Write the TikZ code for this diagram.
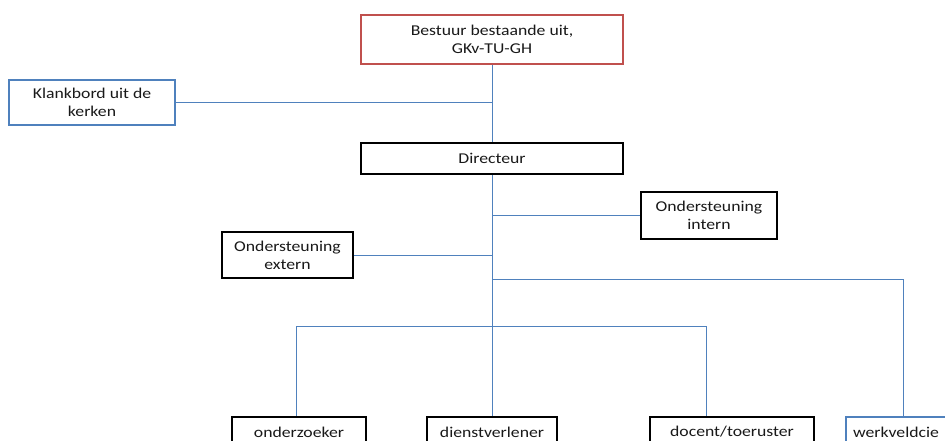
\documentclass[tikz,border=0pt]{standalone}
\usepackage{fontspec}
\setmainfont{Carlito}[FakeStretch=1.18]
\definecolor{redbox}{RGB}{192,80,77}
\definecolor{bluebox}{RGB}{79,129,189}
\definecolor{linecol}{RGB}{79,129,189}
\begin{document}
\begin{tikzpicture}[x=1pt,y=-1pt,
  box/.style={draw, rectangle, fill=white, align=center, inner sep=0pt,
    font=\fontsize{15}{17.7}\selectfont, text=black!90},
  blackbox/.style={box, draw=black, line width=2.6pt},
  redbx/.style={box, draw=redbox, line width=2.2pt},
  bluebx/.style={box, draw=bluebox, line width=2.2pt},
  conn/.style={draw=linecol, line width=1pt}]
\useasboundingbox (0,0) rectangle (945,441);
\clip (0,0) rectangle (945,441);
% nodes
\node[redbx, minimum width=262, minimum height=49] (top) at (492,39.5) {Bestuur bestaande uit,\\GKv-TU-GH};
\node[bluebx, minimum width=166, minimum height=45] (klank) at (92,102.5) {Klankbord uit de\\kerken};
\node[blackbox, minimum width=262, minimum height=31] (dir) at (492,158.5) {Directeur};
\node[blackbox, minimum width=136, minimum height=47] (intern) at (709,215.5) {Ondersteuning\\intern};
\node[blackbox, minimum width=131, minimum height=46] (extern) at (287.5,255) {Ondersteuning\\extern};
\node[blackbox, minimum width=134, minimum height=30] (onder) at (299,432) {onderzoeker};
\node[blackbox, minimum width=130, minimum height=30] (dien) at (492,432) {dienstverlener};
\node[blackbox, minimum width=164, minimum height=30] (doc) at (732,432) {docent/toeruster};
\node[bluebx, minimum width=100, minimum height=30] (werk) at (896,432) {werkveldcie};
% junction coordinates
\coordinate (wj) at (903,279);
\coordinate (oj) at (296,326);
\coordinate (dj) at (706,326);
% connectors
\begin{scope}[on background layer/.try]
\end{scope}
\draw[conn] (top.south) -- (dir.north);
\draw[conn] (klank.east) -- (klank.east -| top.south);
\draw[conn] (dir.south) -- (dien.north);
\draw[conn] (intern.west) -- (intern.west -| dir.south);
\draw[conn] (extern.east) -- (extern.east -| dir.south);
\draw[conn] (wj -| dir.south) -- (wj) -- (wj |- werk.north);
\draw[conn] (oj |- onder.north) -- (oj) -- (dj) -- (dj |- doc.north);
\end{tikzpicture}
\end{document}
